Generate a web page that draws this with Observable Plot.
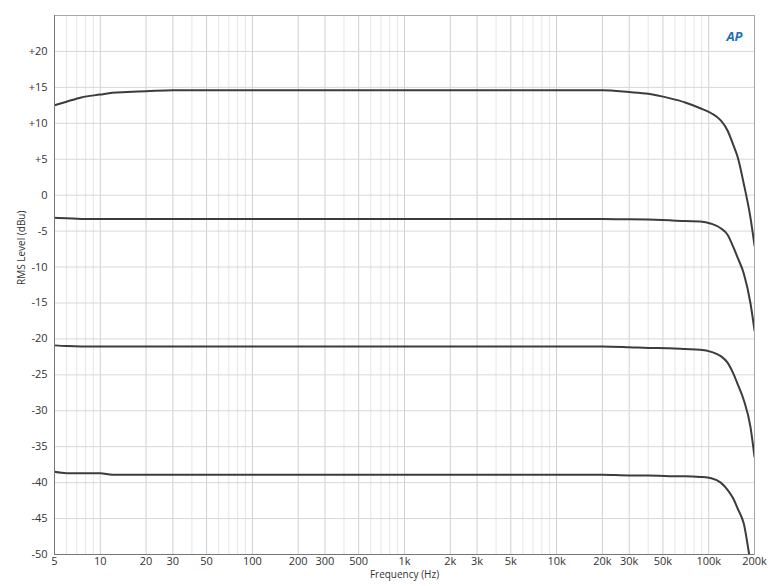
<!DOCTYPE html>
<html>
<head>
<meta charset="utf-8">
<script src="https://cdn.jsdelivr.net/npm/d3@7"></script>
<script src="https://cdn.jsdelivr.net/npm/@observablehq/plot@0.6"></script>
<style>
  html, body { margin: 0; padding: 0; background: #fff; }
  svg { font-family: "Open Sans", "Noto Sans", sans-serif; }
</style>
</head>
<body>
<div id="chart"></div>
<script>
const freq = [5, 6, 7.5, 10, 12, 15, 20, 30, 50, 100, 1000, 10000, 20000, 30000, 40000, 55000, 70000, 88000, 104000, 120000, 133000, 145000, 155000, 170000, 188000, 200000];
const level1 = [12.5, 13.0, 13.6, 14.0, 14.25, 14.35, 14.45, 14.6, 14.6, 14.6, 14.6, 14.6, 14.6, 14.35, 14.1, 13.5, 12.9, 12.1, 11.4, 10.4, 9.0, 7.0, 5.3, 1.6, -3.1, -7.0];
const level2 = [-3.15, -3.2, -3.3, -3.3, -3.3, -3.3, -3.3, -3.3, -3.3, -3.3, -3.3, -3.3, -3.3, -3.35, -3.4, -3.5, -3.6, -3.65, -3.97, -4.6, -5.5, -7.2, -8.7, -10.9, -15.0, -18.8];
const level3 = [-20.9, -21.0, -21.05, -21.05, -21.05, -21.05, -21.05, -21.05, -21.05, -21.05, -21.05, -21.05, -21.05, -21.15, -21.25, -21.3, -21.4, -21.5, -21.8, -22.4, -23.3, -24.8, -26.3, -28.5, -32.2, -36.4];
const level4 = [-38.5, -38.7, -38.7, -38.7, -38.9, -38.9, -38.9, -38.9, -38.9, -38.9, -38.9, -38.9, -38.9, -39.0, -39.0, -39.1, -39.1, -39.2, -39.4, -40.0, -41.0, -42.2, -43.6, -45.7, -51.0, -54.0];

const xTicks = [5, 10, 20, 30, 50, 100, 200, 300, 500, 1000, 2000, 3000, 5000, 10000, 20000, 30000, 50000, 100000, 200000];
const xTickLabels = ["5", "10", "20", "30", "50", "100", "200", "300", "500", "1k", "2k", "3k", "5k", "10k", "20k", "30k", "50k", "100k", "200k"];
const yTicks = [20, 15, 10, 5, 0, -5, -10, -15, -20, -25, -30, -35, -40, -45, -50];
const yTickLabels = ["+20", "+15", "+10", "+5", "0", "-5", "-10", "-15", "-20", "-25", "-30", "-35", "-40", "-45", "-50"];

const minorX = [];
for (let e = 0; e <= 5; e++) for (let m = 1; m <= 9; m++) {
  const v = m * Math.pow(10, e);
  if (v >= 5 && v <= 200000 && !xTicks.includes(v)) minorX.push(v);
}

const series = [level1, level2, level3, level4];
const rows = [];
series.forEach((arr, s) => freq.forEach((f, i) => rows.push({series: s, f, v: arr[i]})));

const chart = Plot.plot({
  width: 777,
  height: 586,
  marginLeft: 54,
  marginRight: 23,
  marginTop: 15,
  marginBottom: 32,
  style: {fontSize: "11px", color: "#333", background: "#fff"},
  x: {type: "log", domain: [5, 200000], label: null, axis: null},
  y: {domain: [-50, 25], label: null, axis: null},
  marks: [
    Plot.ruleX(minorX, {stroke: "#e6e6e6", strokeWidth: 1}),
    Plot.ruleX(xTicks, {stroke: "#d0d0d0", strokeWidth: 1}),
    Plot.ruleY(yTicks, {stroke: "#d8d8d8", strokeWidth: 1}),
    Plot.line(rows, {x: "f", y: "v", z: "series", stroke: "#3c3c3c", strokeWidth: 2, curve: "monotone-x", clip: true}),
    Plot.frame({stroke: "#a8a8a8"}),
    Plot.ruleX([5], {stroke: "#777"}),
    Plot.ruleY([-50], {stroke: "#777"}),
    Plot.text(xTicks, {x: d => d, text: (d, i) => xTickLabels[i], frameAnchor: "bottom", dy: 10, fontSize: 11, fill: "#333"}),
    Plot.text(yTicks, {y: d => d, text: (d, i) => yTickLabels[i], frameAnchor: "left", dx: -7, textAnchor: "end", fontSize: 11, fill: "#333"}),
    Plot.text(["Frequency (Hz)"], {frameAnchor: "bottom", dy: 23, fontSize: 10, fill: "#333"}),
    Plot.text(["RMS Level (dBu)"], {frameAnchor: "left", dx: -33, rotate: -90, fontSize: 10, fill: "#333"}),
    Plot.text(["AP"], {frameAnchor: "top-right", dx: -12, dy: 16, fontSize: 13, fontWeight: "bold", fontStyle: "italic", fill: "#1f6fb8"})
  ]
});
document.getElementById("chart").appendChild(chart);
</script>
</body>
</html>
